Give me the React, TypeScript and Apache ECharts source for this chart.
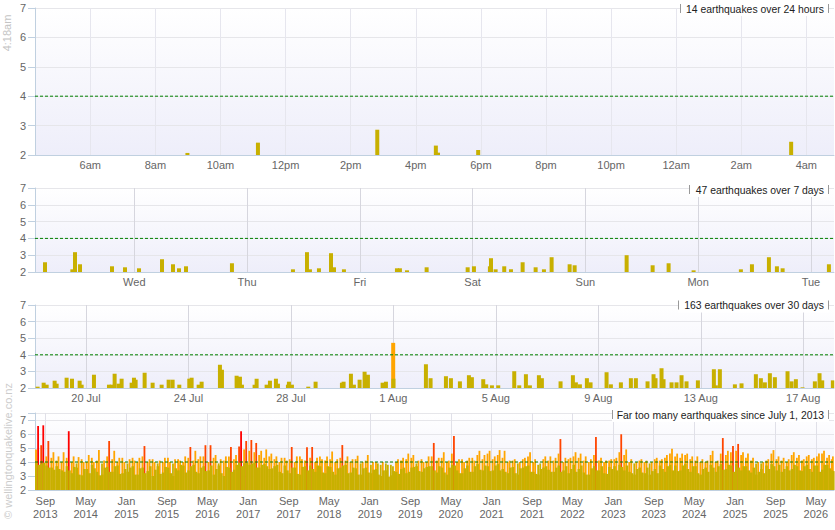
import React, { useEffect, useRef } from 'react';
import * as echarts from 'echarts';

// ---------- data ----------
const YEAR = 2026;
const NOW_LABEL = '4:18am';
const NOW = '08-18 04:18';
const THRESHOLD = 4;

const panelTitles = [
  '14 earthquakes over 24 hours',
  '47 earthquakes over 7 days',
  '163 earthquakes over 30 days',
  'Far too many earthquakes since July 1, 2013',
];

// axis ranges
const dayRange = ['08-17 04:18', '08-18 04:51'];
const weekRange = ['08-11 02:52', '08-18 04:55'];
const monthRange = ['07-18 00:15', '08-18 04:50'];
const allRange = ['2013-07-01', '2026-08-18'];

// tick positions
const hourTicks = ['08-17 06:00', '08-17 08:00', '08-17 10:00', '08-17 12:00', '08-17 14:00', '08-17 16:00',
  '08-17 18:00', '08-17 20:00', '08-17 22:00', '08-18 00:00', '08-18 02:00', '08-18 04:00'];
const dayTicks = ['08-12', '08-13', '08-14', '08-15', '08-16', '08-17', '08-18'];
const dateTicks = ['07-20', '07-24', '07-28', '08-01', '08-05', '08-09', '08-13', '08-17'];
const yearTicks = ['2013-09', '2014-05', '2015-01', '2015-09', '2016-05', '2017-01', '2017-09', '2018-05',
  '2019-01', '2019-09', '2020-05', '2021-01', '2021-09', '2022-05', '2023-01', '2023-09', '2024-05',
  '2025-01', '2025-09', '2026-05'];

// panel 1: last 24 hours
const dayTimes = ['08-17 08:59', '08-17 11:09', '08-17 14:49', '08-17 16:37', '08-17 16:41', '08-17 17:55', '08-18 03:32'];
const dayMags = [2.07, 2.42, 2.86, 2.32, 2.08, 2.17, 2.45];

// panel 2: last 7 days
const weekTimes = [
  '08-11 05:00', '08-11 10:49', '08-11 11:23', '08-11 12:27', '08-11 19:15', '08-11 22:01',
  '08-12 01:00', '08-12 05:54', '08-12 08:14', '08-12 09:31', '08-12 11:00', '08-12 20:47',
  '08-13 09:46', '08-13 12:45', '08-13 13:23', '08-13 15:18', '08-13 17:52', '08-13 18:30', '08-13 20:37',
  '08-14 07:54', '08-14 08:32', '08-14 10:02', '08-14 14:13', '08-14 22:57',
  '08-15 00:17', '08-15 03:41', '08-15 03:55', '08-15 04:54', '08-15 06:44', '08-15 08:10', '08-15 10:39',
  '08-15 13:25', '08-15 15:11', '08-15 16:49', '08-15 20:39', '08-15 21:43',
  '08-16 08:47', '08-16 14:19', '08-16 17:43', '08-16 23:02',
  '08-17 09:06', '08-17 11:27', '08-17 15:04', '08-17 16:46', '08-17 17:59',
  '08-18 03:50',
];
const weekMags = [
  2.58, 2.16, 3.18, 2.46, 2.34, 2.28,
  2.22, 2.76, 2.46, 2.22, 2.34, 2.52,
  2.16, 3.18, 2.16, 2.22, 3.12, 2.28, 2.16,
  2.22, 2.22, 2.1, 2.28, 2.28,
  2.34, 2.34, 2.82, 2.16, 2.34, 2.16, 2.58,
  2.28, 2.16, 2.88, 2.46, 2.4,
  3.0, 2.4, 2.52, 2.1,
  2.16, 2.46, 2.88, 2.34, 2.22,
  2.46,
];

// panel 3: last 30 days
const monthTimes = [
  '07-18 02:43', '07-18 08:21', '07-18 11:10', '07-18 18:39', '07-18 20:31', '07-19 05:52', '07-19 10:54',
  '07-19 18:04', '07-19 19:57', '07-20 07:29', '07-20 21:33', '07-21 00:03', '07-21 02:51', '07-21 06:36',
  '07-21 09:24', '07-21 18:47', '07-21 20:58', '07-21 22:32', '07-22 06:58', '07-22 14:27', '07-22 22:54',
  '07-23 05:27', '07-23 09:11', '07-23 15:26', '07-24 00:48', '07-24 02:59', '07-24 09:33', '07-24 12:22',
  '07-25 05:31', '07-25 07:24', '07-25 21:08', '07-26 00:16', '07-26 02:08', '07-26 13:59', '07-26 15:53',
  '07-27 01:15', '07-27 04:22', '07-27 09:59', '07-27 11:51', '07-27 21:13', '07-27 22:09', '07-28 00:58',
  '07-28 16:16', '07-28 23:08', '07-29 23:49', '07-30 01:22', '07-30 08:14', '07-30 11:02', '07-30 16:22',
  '07-30 21:03', '07-31 00:10', '07-31 13:55', '07-31 17:02', '07-31 23:50', '08-01 00:05',
  '08-02 06:30', '08-02 10:52', '08-03 01:15', '08-03 05:56', '08-03 14:21', '08-03 22:47', '08-04 01:35',
  '08-04 12:13', '08-04 15:01', '08-04 20:20', '08-05 02:15', '08-05 17:15', '08-05 21:56', '08-06 04:11',
  '08-06 07:55', '08-06 16:21', '08-06 19:09', '08-07 12:39', '08-08 00:12', '08-08 03:01', '08-08 06:46',
  '08-08 13:19', '08-08 16:45', '08-09 07:45', '08-09 11:48', '08-09 21:10', '08-10 06:32', '08-10 11:13',
  '08-10 22:09', '08-11 03:46', '08-11 05:38', '08-11 11:15', '08-11 13:08', '08-11 20:38', '08-12 01:19',
  '08-12 06:00', '08-12 10:40', '08-12 21:18', '08-13 12:17', '08-13 14:10', '08-13 17:54', '08-14 07:58',
  '08-14 14:12', '08-15 03:38', '08-15 08:19', '08-15 12:04', '08-15 16:45', '08-15 21:26', '08-16 09:18',
  '08-16 13:03', '08-16 17:07', '08-16 23:21', '08-17 10:54', '08-17 15:17', '08-17 17:47', '08-18 03:46',
];
const monthMags = [
  2.08, 2.32, 2.2, 2.44, 2.26, 2.62, 2.56,
  2.44, 2.2, 2.8, 2.2, 2.2, 2.86, 2.26,
  2.56, 2.32, 2.62, 2.5, 2.92, 2.32, 2.2,
  2.5, 2.5, 2.2, 2.56, 2.62, 2.2, 2.38,
  3.4, 3.1, 2.74, 2.68, 2.2, 2.2, 2.56,
  2.2, 2.44, 2.56, 2.26, 2.2, 2.38, 2.2,
  2.08, 2.38, 2.32, 2.38, 2.86, 2.2, 2.5,
  2.98, 2.8, 2.32, 2.38, 4.72, 2.56,
  3.43, 2.59, 2.71, 2.59, 2.4, 2.77, 2.65,
  2.53, 2.22, 2.16, 2.16, 3.01, 2.16, 2.83,
  2.16, 2.77, 2.59, 2.4, 2.77, 2.34, 2.22,
  2.59, 2.34, 2.95, 2.22, 2.34, 2.59, 2.59,
  2.4, 2.83, 2.59, 3.19, 2.53, 2.34, 2.34,
  2.77, 2.4, 2.46, 3.13, 2.16, 3.13, 2.22,
  2.28, 2.83, 2.59, 2.34, 2.89, 2.65, 3.01,
  2.4, 2.53, 2.04, 2.4, 2.89, 2.46, 2.46,
];

// panel 4: since July 2013, per month: largest quake, second largest, and the upper level of the rest
const FIRST_MONTH = '2013-07';
const monthlyMax = [
  6.57, 6.62, 5.5, 4.7, 4.4, 4.7,
  6.2, 4.4, 4.35, 4.0, 4.5, 4.0, 4.85, 4.1, 5.5, 4.8, 4.3, 4.0,
  4.2, 4.1, 4.3, 5.14, 4.2, 4.0, 4.1, 4.3, 4.0, 4.2, 4.1, 4.4,
  5.07, 4.8, 4.4, 5.2, 5.2, 4.5, 4.2, 4.4, 5.07, 4.5, 6.2, 5.5,
  5.57, 5.36, 4.8, 4.9, 4.6, 4.4, 4.3, 4.1, 5.07, 4.4, 4.2, 5.05,
  5.07, 4.3, 4.2, 4.4, 4.75, 4.2, 5.21, 4.4, 4.2, 4.45, 4.0, 4.5,
  4.0, 3.9, 4.0, 3.8, 3.7, 4.2, 4.3, 4.6, 4.5, 4.1, 4.0, 4.4,
  5.36, 4.3, 4.7, 4.1, 5.86, 4.2, 4.0, 4.3, 4.1, 4.8, 4.5, 4.8,
  4.4, 4.85, 4.8, 4.1, 4.2, 4.0, 4.3, 4.7, 4.2, 3.9, 4.4, 4.4,
  4.3, 5.64, 4.3, 4.3, 4.7, 4.6, 4.4, 4.2, 5.79, 4.3, 4.1, 4.2,
  4.3, 5.98, 4.9, 4.2, 4.0, 4.2, 4.1, 4.0, 4.3, 4.2, 4.5, 4.95,
  4.6, 4.6, 4.6, 4.4, 4.4, 4.2, 4.1, 4.8, 4.1, 5.71, 4.8, 5.14,
  5.29, 4.7, 4.6, 4.3, 4.0, 4.0, 4.2, 4.85, 4.4, 4.3, 4.2, 4.7,
  4.5, 4.2, 4.5, 4.3, 4.6, 4.8, 4.5, 4.4,
];
const monthlySecond = [
  4.9, 5.2, 4.4, 4.3, 4.1, 4.0,
  4.3, 4.0, 3.9, 4.2, 4.0, 4.3, 4.1, 3.9, 4.4, 4.2, 4.0, 4.3,
  3.9, 4.3, 4.0, 4.4, 4.0, 4.2, 3.9, 4.0, 4.3, 3.9, 4.2, 4.0,
  4.3, 4.1, 4.2, 4.4, 4.0, 4.3, 3.9, 4.1, 4.4, 4.2, 5.1, 4.9,
  4.8, 4.7, 4.5, 4.3, 4.4, 4.2, 4.0, 4.3, 4.2, 4.0, 4.4, 4.1,
  4.3, 4.0, 4.4, 4.1, 4.2, 4.0, 4.3, 4.1, 4.0, 4.2, 3.9, 4.1,
  3.8, 4.0, 3.8, 3.9, 3.8, 4.0, 4.1, 4.2, 4.3, 3.9, 4.2, 4.0,
  4.4, 4.1, 4.3, 4.0, 4.6, 4.0, 4.2, 4.1, 4.3, 4.5, 4.2, 4.6,
  4.2, 4.5, 4.3, 4.0, 4.1, 3.9, 4.2, 4.4, 4.0, 3.8, 4.2, 4.1,
  4.1, 4.6, 4.0, 4.2, 4.4, 4.3, 4.1, 4.0, 4.5, 4.1, 4.0, 4.1,
  4.2, 4.7, 4.5, 4.0, 3.9, 4.1, 4.0, 3.9, 4.2, 4.1, 4.3, 4.6,
  4.4, 4.3, 4.5, 4.2, 4.1, 4.0, 4.0, 4.5, 4.0, 4.6, 4.5, 4.7,
  4.8, 4.5, 4.3, 4.1, 3.9, 3.9, 4.1, 4.6, 4.2, 4.1, 4.0, 4.5,
  4.3, 4.1, 4.4, 4.2, 4.4, 4.6, 4.3, 4.2,
];
const monthlyBaseA = [
  3.95, 3.9, 3.75, 3.6, 3.7, 3.4,
  3.7, 3.2, 3.6, 3.05, 3.5, 3.8, 3.3, 3.1, 3.65, 3.3, 3.75, 3.2,
  3.3, 3.7, 3.1, 3.6, 3.35, 3.0, 3.7, 3.25, 3.6, 3.0, 3.4, 3.75,
  3.4, 3.8, 3.2, 3.7, 3.4, 3.1, 3.75, 3.0, 3.6, 3.45, 3.95, 3.9,
  3.8, 3.95, 3.6, 3.85, 3.5, 3.7, 3.3, 3.75, 3.2, 3.6, 3.1, 3.7,
  3.75, 3.3, 3.7, 3.2, 3.65, 3.1, 3.6, 3.8, 3.25, 3.55, 3.1, 3.6,
  3.2, 3.5, 3.0, 3.4, 3.05, 3.3, 3.5, 3.2, 3.6, 3.7, 3.3, 3.65,
  3.7, 3.25, 3.6, 3.1, 3.8, 3.4, 3.2, 3.75, 3.3, 3.85, 3.4, 3.7,
  3.4, 3.85, 3.5, 3.2, 3.65, 3.1, 3.6, 3.75, 3.3, 3.1, 3.6, 3.45,
  3.3, 3.75, 3.4, 3.2, 3.8, 3.5, 3.25, 3.1, 3.7, 3.4, 3.2, 3.65,
  3.7, 3.8, 3.4, 3.3, 3.1, 3.6, 3.2, 3.1, 3.5, 3.75, 3.3, 3.8,
  3.75, 3.4, 3.85, 3.3, 3.7, 3.1, 3.6, 3.8, 3.3, 3.85, 3.5, 3.75,
  3.85, 3.4, 3.7, 3.25, 3.1, 3.5, 3.75, 3.85, 3.4, 3.3, 3.7, 3.5,
  3.7, 3.35, 3.8, 3.3, 3.75, 3.45, 3.8, 3.4,
];
const monthlyBaseB = [
  3.8, 3.95, 3.6, 3.45, 3.5, 3.3,
  3.4, 3.65, 3.1, 3.5, 3.2, 3.55, 3.05, 3.6, 3.3, 3.7, 3.15, 3.5,
  3.6, 3.1, 3.55, 3.2, 3.7, 3.45, 3.15, 3.65, 3.2, 3.55, 3.8, 3.25,
  3.7, 3.3, 3.6, 3.35, 3.75, 3.5, 3.2, 3.65, 3.3, 3.8, 3.7, 3.95,
  3.9, 3.6, 3.8, 3.7, 3.55, 3.8, 3.2, 3.4, 3.6, 3.15, 3.65, 3.4,
  3.5, 3.75, 3.25, 3.7, 3.3, 3.55, 3.75, 3.2, 3.6, 3.1, 3.55, 3.25,
  3.45, 3.1, 3.4, 2.95, 3.35, 3.15, 3.6, 3.3, 3.65, 3.35, 3.55, 3.7,
  3.4, 3.7, 3.25, 3.6, 3.75, 3.2, 3.55, 3.3, 3.7, 3.45, 3.75, 3.35,
  3.75, 3.4, 3.3, 3.6, 3.2, 3.55, 3.7, 3.3, 3.15, 3.5, 3.7, 3.3,
  3.6, 3.3, 3.7, 3.5, 3.3, 3.75, 3.1, 3.55, 3.4, 3.7, 3.15, 3.5,
  3.4, 3.65, 3.75, 3.2, 3.5, 3.25, 3.6, 3.35, 3.2, 3.5, 3.7, 3.4,
  3.35, 3.75, 3.5, 3.7, 3.2, 3.5, 3.3, 3.6, 3.7, 3.45, 3.8, 3.3,
  3.6, 3.7, 3.4, 3.6, 3.3, 3.2, 3.5, 3.7, 3.8, 3.5, 3.4, 3.8,
  3.4, 3.7, 3.5, 3.75, 3.3, 3.8, 3.55, 3.35,
];

// ---------- helpers ----------
const FONT = '"Liberation Sans", Arial, Helvetica, sans-serif';
const AXIS_COLOR = '#C0D0E0';
const LABEL_COLOR = '#666666';
const MONTHS = ['Jan', 'Feb', 'Mar', 'Apr', 'May', 'Jun', 'Jul', 'Aug', 'Sep', 'Oct', 'Nov', 'Dec'];
const WEEKDAYS = ['Sun', 'Mon', 'Tue', 'Wed', 'Thu', 'Fri', 'Sat'];

function t(s: string): number {
  const [md, hm = '00:00'] = s.split(' ');
  const [mo, d] = md.split('-').map(Number);
  const [h, mi] = hm.split(':').map(Number);
  return Date.UTC(YEAR, mo - 1, d, h, mi);
}
function ym(s: string): number {
  const [y, mo, d = 1] = s.split('-').map(Number);
  return Date.UTC(y, mo - 1, d);
}
function magColor(m: number): string {
  if (m >= 6) return '#FF0000';
  if (m >= 5) return '#FF4500';
  if (m >= 4) return '#FFA500';
  return '#C8B000';
}
function bar(time: number, mag: number) {
  return { value: [time, mag], itemStyle: { color: magColor(mag) } };
}
function quakeBars(times: string[], mags: number[]) {
  return times.map((s, i) => bar(t(s), mags[i])).sort((a, b) => b.value[1] - a.value[1]);
}

const fmtHour = (v: number) => {
  const h = new Date(v).getUTCHours();
  return `${h % 12 === 0 ? 12 : h % 12}${h < 12 ? 'am' : 'pm'}`;
};
const fmtWeekday = (v: number) => WEEKDAYS[new Date(v).getUTCDay()];
const fmtDate = (v: number) => {
  const d = new Date(v);
  return `${d.getUTCDate()} ${MONTHS[d.getUTCMonth()]}`;
};
const fmtMonthYear = (v: number) => {
  const d = new Date(v);
  return `${MONTHS[d.getUTCMonth()]}\n${d.getUTCFullYear()}`;
};

function thresholdSeries(idx: number, min: number, max: number) {
  return {
    type: 'line', xAxisIndex: idx, yAxisIndex: idx, silent: true, z: 10,
    symbol: 'none', showSymbol: false,
    data: [[min, THRESHOLD], [max, THRESHOLD]],
    lineStyle: { color: '#008000', type: [3, 2], width: 1 },
    itemStyle: { color: '#008000' },
  };
}

function buildOption() {
  const nowTs = t(NOW);
  const [fy, fm] = FIRST_MONTH.split('-').map(Number);
  const peaks: any[] = [];
  const seconds: any[] = [];
  const bases: any[] = [];
  monthlyMax.forEach((mx, i) => {
    const s = Date.UTC(fy, fm - 1 + i, 1);
    const e = Math.min(Date.UTC(fy, fm + i, 1), nowTs);
    peaks.push(bar(s + 0.6 * (e - s), mx));
    seconds.push(bar(s + 0.2 * (e - s), monthlySecond[i]));
    bases.push(bar(s + 0.25 * (e - s), monthlyBaseA[i]));
    bases.push(bar(s + 0.75 * (e - s), monthlyBaseB[i]));
  });

  const bg = {
    type: 'linear', x: 0, y: 0, x2: 0, y2: 1,
    colorStops: [{ offset: 0, color: '#ffffff' }, { offset: 1, color: '#eeeefa' }],
  };
  const gridBase = { left: 35, width: 799, show: true, backgroundColor: bg, borderWidth: 0, containLabel: false };
  const grids = [
    { ...gridBase, top: 8, height: 147 },
    { ...gridBase, top: 188, height: 84 },
    { ...gridBase, top: 305, height: 83 },
    { ...gridBase, top: 413, height: 77 },
  ];

  const xAxis = (gridIndex: number, min: number, max: number, ticks: number[], fmt: (v: number) => string, splitColor: string, extra: any = {}) => ({
    type: 'value', gridIndex, min, max, scale: true,
    axisLine: { show: true, onZero: false, lineStyle: { color: AXIS_COLOR, width: 1 } },
    axisTick: { show: false, customValues: ticks },
    axisLabel: {
      show: true, customValues: ticks, formatter: (v: number) => fmt(v),
      color: LABEL_COLOR, fontSize: 11, fontFamily: FONT, margin: 4, hideOverlap: false,
      showMinLabel: true, showMaxLabel: true, ...extra,
    },
    splitLine: { show: true, lineStyle: { color: splitColor, width: 1 } },
  });
  const yAxis = (gridIndex: number, max: number) => ({
    type: 'value', gridIndex, min: 2, max, interval: 1,
    axisLine: { show: true, onZero: false, lineStyle: { color: AXIS_COLOR } },
    axisTick: { show: true, length: 7, lineStyle: { color: AXIS_COLOR } },
    axisLabel: { color: LABEL_COLOR, fontSize: 11, fontFamily: FONT, margin: 9, customValues: [2, 3, 4, 5, 6, 7] },
    splitLine: { show: true, lineStyle: { color: '#e6e6ea' } },
  });

  const quakeSeries = (idx: number, data: any[]) => ({
    type: 'bar', xAxisIndex: idx, yAxisIndex: idx, data, barWidth: 4, silent: true, z: 2,
  });

  const titleY = [9, 190, 305.5, 415];
  const boxX0 = [680, 689, 678, 612];
  const titleGraphics: any[] = [];
  panelTitles.forEach((txt, i) => {
    const y = titleY[i];
    titleGraphics.push({ type: 'rect', z: 100, shape: { x: boxX0[i], y: y - 7, width: 829 - boxX0[i], height: 14 }, style: { fill: '#ffffff' } });
    titleGraphics.push({ type: 'line', z: 101, shape: { x1: boxX0[i] + 0.5, y1: y - 5, x2: boxX0[i] + 0.5, y2: y + 4 }, style: { stroke: '#999999', lineWidth: 1 } });
    titleGraphics.push({ type: 'line', z: 101, shape: { x1: 828.5, y1: y - 5, x2: 828.5, y2: y + 4 }, style: { stroke: '#999999', lineWidth: 1 } });
    titleGraphics.push({
      type: 'text', z: 102, x: 824, y,
      style: {
        text: txt, fill: '#222222', font: `10.4px ${FONT}`,
        align: 'right', textAlign: 'right', verticalAlign: 'middle', textVerticalAlign: 'middle',
      },
    });
  });

  const ranges = [
    [t(dayRange[0]), t(dayRange[1])],
    [t(weekRange[0]), t(weekRange[1])],
    [t(monthRange[0]), t(monthRange[1])],
    [ym(allRange[0]), ym(allRange[1])],
  ];

  return {
    animation: false,
    textStyle: { fontFamily: FONT },
    grid: grids,
    xAxis: [
      xAxis(0, ranges[0][0], ranges[0][1], hourTicks.map(t), fmtHour, '#e6e6ee'),
      xAxis(1, ranges[1][0], ranges[1][1], dayTicks.map(t), fmtWeekday, '#d6d6de'),
      xAxis(2, ranges[2][0], ranges[2][1], dateTicks.map(t), fmtDate, '#d6d6de'),
      xAxis(3, ranges[3][0], ranges[3][1], yearTicks.map(ym), fmtMonthYear, '#e0e0e8', { lineHeight: 12.5, margin: 5 }),
      { type: 'value', gridIndex: 3, min: ranges[3][0], max: ranges[3][1], scale: true, show: false },
    ],
    yAxis: [yAxis(0, 7), yAxis(1, 7), yAxis(2, 7), yAxis(3, 7.5)],
    series: [
      quakeSeries(0, quakeBars(dayTimes, dayMags)),
      quakeSeries(1, quakeBars(weekTimes, weekMags)),
      quakeSeries(2, quakeBars(monthTimes, monthMags)),
      { type: 'bar', xAxisIndex: 4, yAxisIndex: 3, data: peaks, barWidth: 1.8, barGap: '-100%', silent: true, z: 2 },
      { type: 'bar', xAxisIndex: 4, yAxisIndex: 3, data: seconds, barWidth: 1.8, barGap: '-100%', silent: true, z: 2 },
      { type: 'bar', xAxisIndex: 3, yAxisIndex: 3, data: bases, barWidth: 2.6, barGap: '-100%', silent: true, z: 3 },
      thresholdSeries(0, ranges[0][0], ranges[0][1]),
      thresholdSeries(1, ranges[1][0], ranges[1][1]),
      thresholdSeries(2, ranges[2][0], ranges[2][1]),
      { ...thresholdSeries(3, ranges[3][0], ranges[3][1]), xAxisIndex: 3, yAxisIndex: 3 },
    ],
    graphic: [
      ...titleGraphics,
      {
        type: 'text', z: 100, x: 7, y: 33, rotation: Math.PI / 2,
        style: { text: NOW_LABEL, fill: '#c4c4c4', font: `11px ${FONT}`, align: 'center', textAlign: 'center', verticalAlign: 'middle', textVerticalAlign: 'middle' },
      },
      {
        type: 'text', z: 100, x: 8, y: 451, rotation: Math.PI / 2,
        style: { text: '© wellingtonquakelive.co.nz', fill: '#cccccc', font: `11px ${FONT}`, align: 'center', textAlign: 'center', verticalAlign: 'middle', textVerticalAlign: 'middle' },
      },
    ],
  };
}

export default function App() {
  const ref = useRef<HTMLDivElement>(null);
  useEffect(() => {
    document.body.style.margin = '0';
    const chart = echarts.init(ref.current as HTMLDivElement, null, { renderer: 'svg', width: 835, height: 530 });
    chart.setOption(buildOption() as any);
    return () => chart.dispose();
  }, []);
  return <div ref={ref} style={{ width: 835, height: 530 }} />;
}
